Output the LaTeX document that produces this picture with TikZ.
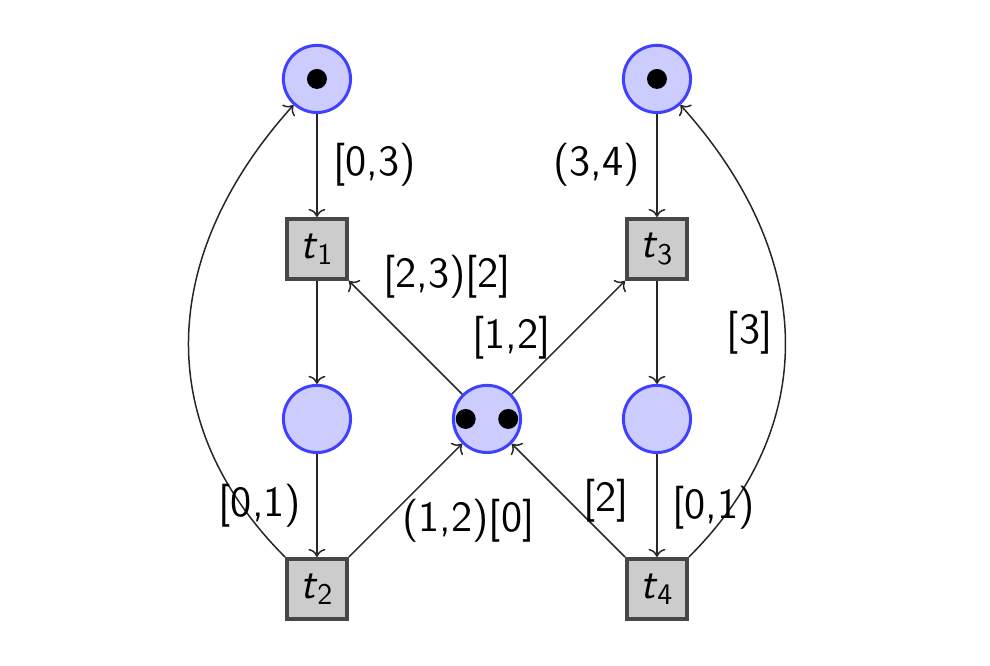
\documentclass[tikz,border=0pt]{standalone}
\usetikzlibrary{arrows.meta}
\begin{document}
\begin{tikzpicture}[
  font=\sffamily\fontsize{14.4}{17}\selectfont,
  place/.style={circle, draw=blue!75, fill=blue!20, line width=1pt,
                minimum size=0.79cm, inner sep=0pt},
  transition/.style={rectangle, draw=black!72, fill=black!20, line width=1.2pt,
                     minimum size=0.71cm, inner sep=0pt},
  token/.style={circle, fill=black, minimum size=0.235cm, inner sep=0pt},
  arc/.style={->, draw=black!85, line width=0.5pt},
  lbl/.style={inner sep=0pt}
]
\useasboundingbox (-3.729,-0.906) rectangle (7.918,6.929);

% places
\node[place] (p1) at (0,6) {};
\node[place] (p2) at (0,2) {};
\node[place] (p5) at (2,2) {};
\node[place] (p3) at (4,6) {};
\node[place] (p4) at (4,2) {};

% tokens
\node[token] (k1) at (p1) {};
\node[token] (k3) at (p3) {};
\node[token] (k5a) at ([xshift=-0.25cm]p5.center) {};
\node[token] (k5b) at ([xshift=0.25cm]p5.center) {};

% transitions
\node[transition] (t1) at (0,4) {\textit{t}\textsubscript{1}};
\node[transition] (t2) at (0,0) {\textit{t}\textsubscript{2}};
\node[transition] (t3) at (4,4) {\textit{t}\textsubscript{3}};
\node[transition] (t4) at (4,0) {\textit{t}\textsubscript{4}};

% arcs
\draw[arc] (p1) -- (t1);
\draw[arc] (t1) -- (p2);
\draw[arc] (p2) -- (t2);
\draw[arc] (t2) -- (p5);
\draw[arc] (p5) -- (t1);
\draw[arc] (p5) -- (t3);
\draw[arc] (p3) -- (t3);
\draw[arc] (t3) -- (p4);
\draw[arc] (p4) -- (t4);
\draw[arc] (t4) -- (p5);
\draw[arc] (t2) to[out=135, in=-132, looseness=1.1] (p1);
\draw[arc] (t4) to[out=45, in=-48, looseness=1.1] (p3);

% arc labels
\node[lbl] (l1) at (0.68,4.99) {[0,3)};
\node[lbl] (l2) at (3.29,4.99) {(3,4)};
\node[lbl] (l3) at (1.53,3.67) {[2,3)[2]};
\node[lbl] (l4) at (2.29,2.95) {[1,2]};
\node[lbl] (l5) at (5.09,3.01) {[3]};
\node[lbl] (l6) at (-0.67,0.98) {[0,1)};
\node[lbl] (l7) at (1.78,0.80) {(1,2)[0]};
\node[lbl] (l8) at (3.40,1.04) {[2]};
\node[lbl] (l9) at (4.67,0.95) {[0,1)};
\end{tikzpicture}
\end{document}
